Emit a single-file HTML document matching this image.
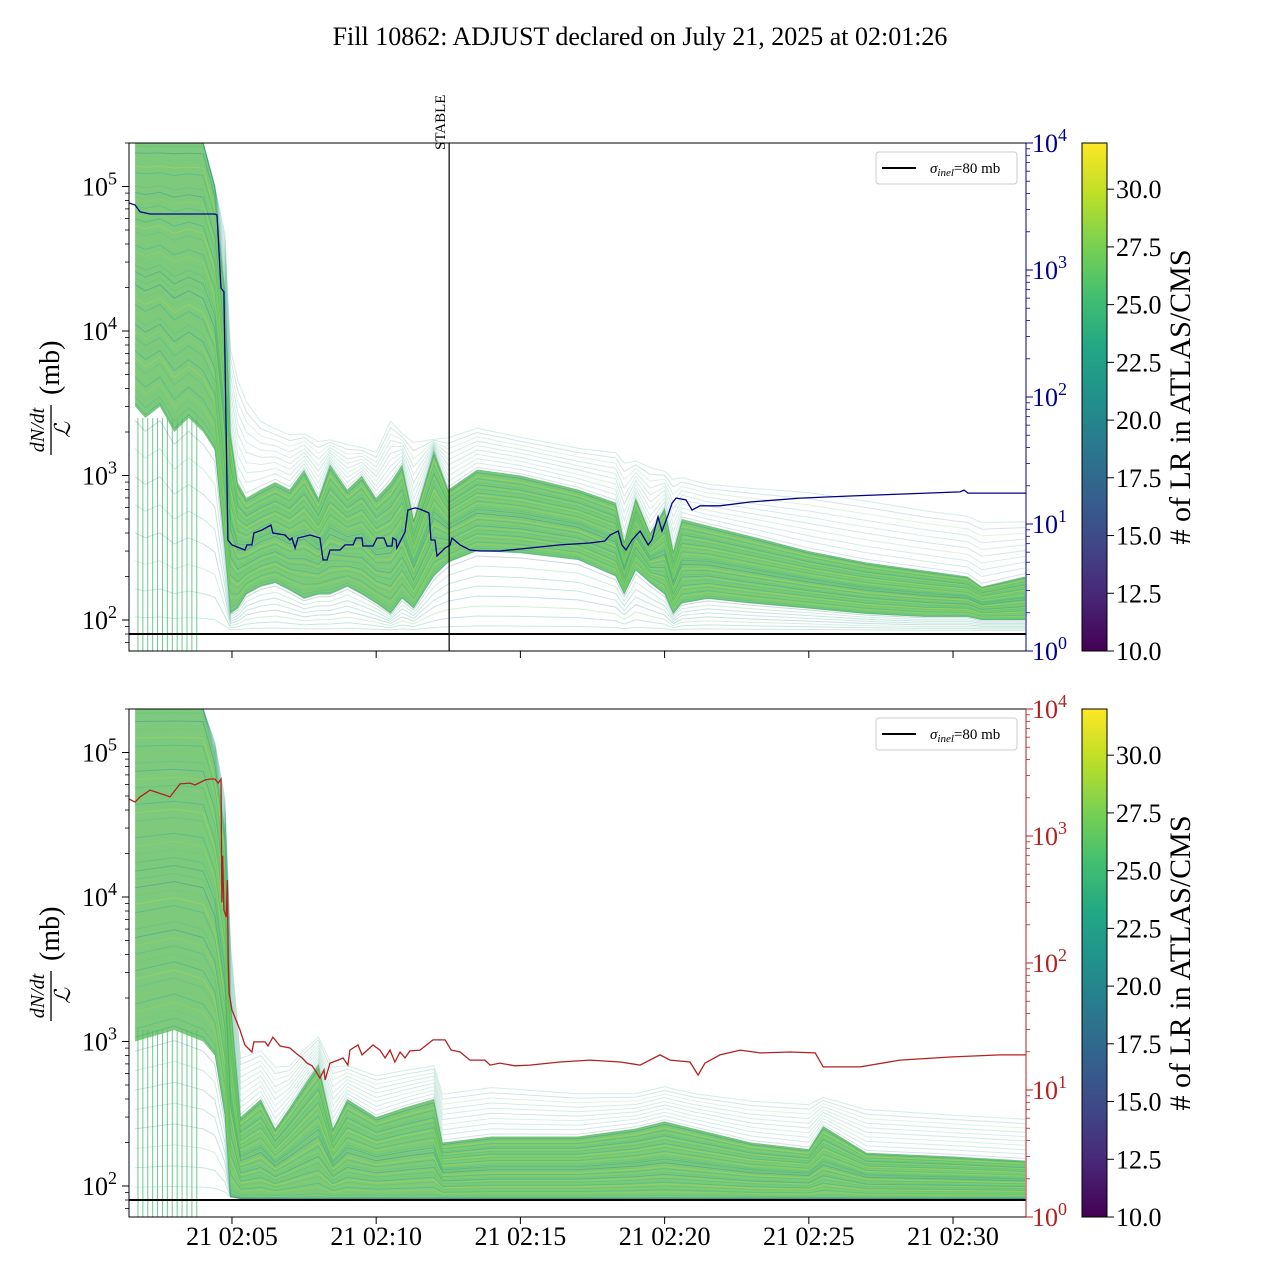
<!DOCTYPE html>
<html><head><meta charset="utf-8">
<style>
html,body{margin:0;padding:0;background:#fff;}
svg{display:block;font-family:"Liberation Serif",serif;}
</style></head>
<body>
<svg id="fig" width="1280" height="1280" viewBox="0 0 1280 1280" xmlns="http://www.w3.org/2000/svg">
<defs>
<linearGradient id="viridis" x1="0" y1="1" x2="0" y2="0">
<stop offset="0" stop-color="#440154"/><stop offset="0.1" stop-color="#482475"/><stop offset="0.2" stop-color="#414487"/><stop offset="0.3" stop-color="#355f8d"/><stop offset="0.4" stop-color="#2a788e"/><stop offset="0.5" stop-color="#21918c"/><stop offset="0.6" stop-color="#22a884"/><stop offset="0.7" stop-color="#44bf70"/><stop offset="0.8" stop-color="#7ad151"/><stop offset="0.9" stop-color="#bddf26"/><stop offset="1" stop-color="#fde725"/>
</linearGradient>
<clipPath id="clipTop"><rect x="129" y="143" width="897" height="508"/></clipPath>
<clipPath id="clipBot"><rect x="129" y="709" width="897" height="508"/></clipPath>
</defs>
<text x="640" y="45" text-anchor="middle" font-size="26">Fill 10862: ADJUST declared on July 21, 2025 at 02:01:26</text>
<g id="layer"></g>
</svg>
<script>
// ---- data (time in minutes after 02:00, values in mb / right-axis units) ----
const topT   = [1.64,2.0,2.5,3.0,3.5,4.0,4.4,4.75,4.95,5.2,5.5,6.0,6.5,7.0,7.5,8.0,8.4,9.0,9.5,10.0,10.5,10.9,11.3,12.0,12.5,13.5,15,17,18.3,18.6,19.0,19.5,20.0,20.3,20.6,21.5,23,25,27,29,30.5,31,32.5];
const topLo  = [3000,2500,3000,2000,2500,2000,1500,300,110,120,150,170,180,160,140,150,150,170,150,130,110,140,120,200,250,300,290,260,200,150,220,180,150,110,130,140,130,120,110,105,105,100,100];
const topHi  = [2e5,2e5,2e5,2e5,2e5,2e5,1e5,2e4,2000,900,700,800,900,800,1100,700,1200,800,1000,700,900,1200,500,1500,800,1100,1000,800,650,350,700,400,600,300,500,450,380,300,250,220,200,170,200];
const topOut = [2e5,2e5,2e5,2e5,2e5,2e5,1e5,5e4,8000,5000,3500,2500,2200,2000,2000,1800,1800,1700,1600,1500,2500,2000,1800,1800,1900,2200,1900,1600,1500,1300,1300,1200,1100,1000,1000,900,850,800,700,600,550,500,500];
const botT   = [1.64,3.0,4.0,4.4,4.75,4.95,5.3,6.0,6.5,7.0,7.5,8.0,8.5,9.0,10.0,11.0,12.0,12.3,14,17,19,20,21,23,25,25.5,27,30,32.5];
const botLo  = [1000,1200,1000,800,300,85,82,82,82,82,82,82,82,82,82,82,82,82,82,82,82,82,82,82,82,82,82,82,82];
const botHi  = [2e5,2e5,2e5,1e5,3e4,2000,300,400,250,350,500,700,250,400,300,350,400,200,220,220,250,280,250,200,180,260,170,160,150];
const botOut = [2e5,2e5,2e5,1.2e5,5e4,5000,800,900,700,700,900,1100,700,700,600,650,700,450,500,450,450,500,450,400,380,420,350,320,300];
const dropT  = [1.74,1.91,2.08,2.25,2.42,2.59,2.76,2.93,3.10,3.27,3.44,3.61,3.78];
const blueT  = [1.43,1.64,1.81,2.16,4.41,4.48,4.62,4.72,4.86,5.0,5.45,5.52,5.69,5.76,6.04,6.35,6.42,6.84,7.01,7.08,7.19,7.29,7.71,8.05,8.16,8.30,8.40,8.75,8.92,9.20,9.30,9.51,9.54,9.89,10.03,10.27,10.38,10.55,10.58,10.69,10.72,11.0,11.1,11.35,11.52,11.83,11.9,12.04,12.11,12.39,12.56,12.63,12.91,13.25,13.6,14.29,15.33,16.37,17.41,17.93,18.11,18.39,18.52,18.66,18.87,19.15,19.43,19.56,19.77,19.91,20.12,20.26,20.4,20.74,20.95,21.23,21.92,22.96,24.7,26.43,28.16,30.24,30.38,30.52,31.63,32.53];
const blueV  = [3370,3250,2870,2760,2760,2710,721,671,7.48,6.84,6.24,6.84,6.84,8.49,8.97,9.82,8.49,8.19,7.48,7.76,6.47,7.76,8.19,7.76,5.21,5.21,6.24,6.24,6.84,6.84,7.76,7.76,6.71,6.71,7.76,7.76,6.71,6.71,7.76,7.48,6.47,8.65,12.9,13.4,13.1,12.2,7.48,7.48,5.6,6.47,6.84,7.76,6.84,6.24,6.13,6.13,6.47,6.84,7.08,7.35,8.19,8.81,6.84,6.24,7.48,8.81,6.84,7.48,11.4,8.81,11.8,14.6,16.0,15.5,12.9,13.9,13.9,14.9,16.0,16.6,17.2,17.9,18.5,17.5,17.5,17.5];
const redT   = [1.43,1.64,1.81,2.16,2.68,2.85,3.2,3.55,3.72,4.07,4.24,4.41,4.52,4.62,4.65,4.68,4.72,4.80,4.84,4.87,4.9,5.0,5.28,5.45,5.69,5.76,6.15,6.25,6.42,6.67,7.01,7.29,7.43,7.6,7.78,7.92,8.05,8.19,8.23,8.40,8.68,8.85,9.02,9.09,9.37,9.51,9.89,10.13,10.31,10.48,10.65,10.83,11.0,11.17,11.52,11.97,12.39,12.6,12.91,13.25,13.77,13.95,14.29,14.81,15.33,16.37,17.41,18.46,19.15,19.84,20.19,20.88,21.16,21.4,21.92,22.62,23.31,24.35,25.22,25.5,26.78,28.16,29.9,31.63,32.53];
const redV   = [1955,1850,2030,2300,2100,2030,2570,2610,2520,2760,2810,2810,2610,2810,300,700,261,230,450,100,58,42.6,29.7,22.6,19.9,23.9,23.9,22.2,26.1,22.2,21.4,18.9,17.9,16.3,15.5,13.9,12.4,14.4,12.0,16.3,17.2,17.9,15.7,20.6,22.6,18.9,22.6,20.6,17.9,20.6,16.6,19.9,17.9,20.3,20.6,24.8,24.8,20.6,19.9,17.2,17.2,15.7,16.3,15.5,15.7,16.6,17.2,16.6,15.7,18.9,17.2,16.6,13.1,16.3,18.9,20.6,19.6,19.9,19.6,15.2,15.2,17.2,18.2,18.9,18.9];
const lineLRs = [22,25,27,29,24,28,26,30,23,27,25,29,21,26,28,24,30,27,19,26];
const colorTicks = [10.0,12.5,15.0,17.5,20.0,22.5,25.0,27.5,30.0];
const timeTicks = [5,10,15,20,25,30];
const timeTickLabels = ["21 02:05","21 02:10","21 02:15","21 02:20","21 02:25","21 02:30"];
const leftDecades = [2,3,4,5];
const rightDecades = [0,1,2,3,4];
const sigmaInel = 80;
const stableT = 12.53;

// ---- scales ----
const NS="http://www.w3.org/2000/svg";
const X0=129,X1=1026,T0=1.43,T1=32.53;
const xS=t=>X0+(t-T0)/(T1-T0)*(X1-X0);
const LMIN=2-31/144.5, LMAX=LMIN+508/144.5;
function yL(p,v){return p.b-(Math.log10(v)-LMIN)/(LMAX-LMIN)*508;}
function yR(p,v){return p.b-Math.log10(v)/4*508;}
const panels=[{name:'top',t:143,b:651,clip:'clipTop',T:topT,lo:topLo,hi:topHi,out:topOut,lineT:blueT,lineV:blueV,lineC:'#00008b',rc:'#00008b'},
              {name:'bottom',t:709,b:1217,clip:'clipBot',T:botT,lo:botLo,hi:botHi,out:botOut,lineT:redT,lineV:redV,lineC:'#b22222',rc:'#b22222'}];
const layer=document.getElementById('layer');
function el(tag,attrs,parent){const e=document.createElementNS(NS,tag);for(const k in attrs)e.setAttribute(k,attrs[k]);(parent||layer).appendChild(e);return e;}
const VIR=['#440154','#482475','#414487','#355f8d','#2a788e','#21918c','#22a884','#44bf70','#7ad151','#bddf26','#fde725'];
function hex(h){return [1,3,5].map(i=>parseInt(h.substr(i,2),16));}
function viridis(v){let f=Math.max(0,Math.min(1,(v-10)/22))*10;const i=Math.min(9,Math.floor(f));const a=hex(VIR[i]),b=hex(VIR[i+1]),r=f-i;return 'rgb('+a.map((c,j)=>Math.round(c+(b[j]-c)*r)).join(',')+')';}
function interpLog(a,b,f){return Math.exp(Math.log(a)+f*(Math.log(b)-Math.log(a)));}
function pathFor(p,T,fn){return T.map((t,i)=>(i?'L':'M')+xS(t).toFixed(1)+','+yL(p,fn(i)).toFixed(1)).join('');}

panels.forEach((p,pi)=>{
  const g=el('g',{'clip-path':'url(#'+p.clip+')'});
  
  
  dropT.forEach((t,k)=>{
    const ln=el('line',{x1:xS(t),x2:xS(t),y1:yL(p,p.lo[1]),y2:p.b,stroke:'#44bf70','stroke-width':1,'stroke-opacity':0.8},g);
    
    
  });
  const up=p.T.map((t,i)=>xS(t).toFixed(1)+','+yL(p,p.hi[i]).toFixed(1));
  const dn=p.T.map((t,i)=>xS(t).toFixed(1)+','+yL(p,p.lo[i]).toFixed(1)).reverse();
  const poly=el('polygon',{points:up.concat(dn).join(' '),fill:'#5cbd5e','fill-opacity':0.8},g);
  
  
  for(let k=0;k<10;k++){const f=(k+0.5)/10;
    const pa=el('path',{d:pathFor(p,p.T,i=>interpLog(p.hi[i],p.out[i],f)),fill:'none',stroke:viridis(lineLRs[k]-4),'stroke-width':1,'stroke-opacity':0.2},g);
    
    }
  for(let k=0;k<8;k++){const f=(k+0.5)/8;
    const pa=el('path',{d:pathFor(p,p.T,i=>interpLog(Math.min(84,p.lo[i]),p.lo[i],f)),fill:'none',stroke:viridis(lineLRs[k+5]-4),'stroke-width':1,'stroke-opacity':0.25},g);
    
    }
  const N=40;
  for(let k=0;k<N;k++){const f=(k+0.5)/N;
    const pa=el('path',{d:pathFor(p,p.T,i=>interpLog(p.lo[i],p.hi[i],f)),fill:'none',stroke:viridis(lineLRs[k%lineLRs.length]),'stroke-width':1,'stroke-opacity':0.35},g);
    
    }
  const sl=el('line',{x1:X0,x2:X1,y1:yL(p,sigmaInel),y2:yL(p,sigmaInel),stroke:'#000','stroke-width':2},g);
  
  
  const d=p.lineT.map((t,i)=>(i?'L':'M')+xS(t).toFixed(1)+','+yR(p,p.lineV[i]).toFixed(1)).join('');
  const rl=el('path',{d:d,fill:'none',stroke:p.lineC,'stroke-width':1.3},g);
  
  

  if(pi===0){
    const st=el('line',{x1:xS(stableT),x2:xS(stableT),y1:p.t,y2:p.b,stroke:'#000','stroke-width':1.2});
    
    
    const tx=el('text',{x:0,y:0,'font-size':15,'text-anchor':'start',transform:'translate('+(xS(stableT)-4)+',150) rotate(-90)'});
    tx.textContent='STABLE';
    
    
  }
  const fr=el('rect',{x:X0,y:p.t,width:X1-X0,height:508,fill:'none',stroke:'#000','stroke-width':1});
  
  
  leftDecades.forEach(dd=>{
    const y=yL(p,Math.pow(10,dd));
    el('line',{x1:X0-7,x2:X0,y1:y,y2:y,stroke:'#000','stroke-width':1});
    const t=el('text',{x:X0-12,y:y+9,'text-anchor':'end','font-size':26});
    
    
    t.innerHTML='10<tspan dy="-11" font-size="18">'+dd+'</tspan>';
    for(let m=2;m<10;m++){const v=m*Math.pow(10,dd);const lv=Math.log10(v);if(lv<LMIN||lv>LMAX)continue;const ym=yL(p,v);el('line',{x1:X0-4,x2:X0,y1:ym,y2:ym,stroke:'#000','stroke-width':0.8});}
  });
  [1].forEach(dd=>{for(let m=6;m<10;m++){const v=m*Math.pow(10,dd);const lv=Math.log10(v);if(lv<LMIN)continue;const ym=yL(p,v);el('line',{x1:X0-4,x2:X0,y1:ym,y2:ym,stroke:'#000','stroke-width':0.8});}});
  const ra=el('line',{x1:X1,x2:X1,y1:p.t,y2:p.b,stroke:p.rc,'stroke-width':1});
  
  
  rightDecades.forEach(dd=>{
    const y=yR(p,Math.pow(10,dd));
    el('line',{x1:X1,x2:X1+7,y1:y,y2:y,stroke:p.rc,'stroke-width':1});
    const t=el('text',{x:X1+6,y:y+9,'text-anchor':'start','font-size':26,fill:p.rc});
    
    
    t.innerHTML='10<tspan dy="-11" font-size="18">'+dd+'</tspan>';
    if(dd<4)for(let m=2;m<10;m++){const ym=yR(p,m*Math.pow(10,dd));el('line',{x1:X1,x2:X1+4,y1:ym,y2:ym,stroke:p.rc,'stroke-width':0.8});}
  });
  timeTicks.forEach((tt,k)=>{
    const x=xS(tt);
    el('line',{x1:x,x2:x,y1:p.b,y2:p.b+7,stroke:'#000','stroke-width':1});
    if(pi===1){const t=el('text',{x:x,y:p.b+28,'text-anchor':'middle','font-size':26});t.textContent=timeTickLabels[k];
      
      }
  });
  const yg=el('g',{transform:'translate(50,'+(p.t+254)+') rotate(-90)'});
  
  
  const n=el('text',{x:-33,y:-6,'text-anchor':'middle','font-size':20,'font-style':'italic'},yg);n.textContent='dN/dt';
  el('line',{x1:-58,x2:-8,y1:1,y2:1,stroke:'#000','stroke-width':1.3},yg);
  const dnm=el('text',{x:-33,y:20,'text-anchor':'middle','font-size':22,'font-style':'italic'},yg);dnm.textContent='ℒ';
  const mb=el('text',{x:2,y:9,'text-anchor':'start','font-size':28},yg);mb.textContent='(mb)';
  const lg=el('g',{});
  
  
  el('rect',{x:876,y:p.t+9,width:141,height:32,rx:3,fill:'#fff','fill-opacity':0.85,stroke:'#ccc','stroke-width':1},lg);
  el('line',{x1:882,x2:916,y1:p.t+25,y2:p.t+25,stroke:'#000','stroke-width':2},lg);
  const lt=el('text',{x:930,y:p.t+30,'font-size':15},lg);
  lt.innerHTML='<tspan font-style="italic">σ</tspan><tspan font-size="11" dy="3" font-style="italic">inel</tspan><tspan dy="-3">=80 mb</tspan>';
  const cb=el('g',{});
  
  
  el('rect',{x:1082,y:p.t,width:25,height:508,fill:'url(#viridis)',stroke:'#000','stroke-width':1},cb);
  colorTicks.forEach(v=>{const y=p.b-(v-10)/22*508;
    el('line',{x1:1107,x2:1114,y1:y,y2:y,stroke:'#000','stroke-width':1},cb);
    const t=el('text',{x:1116,y:y+9,'font-size':26},cb);t.textContent=v.toFixed(1);
    
    });
  const cl=el('text',{x:0,y:0,'font-size':30,'text-anchor':'middle',transform:'translate(1190,'+(p.t+254)+') rotate(-90)'},cb);
  cl.textContent='# of LR in ATLAS/CMS';
  
  
});
</script>
</body></html>
